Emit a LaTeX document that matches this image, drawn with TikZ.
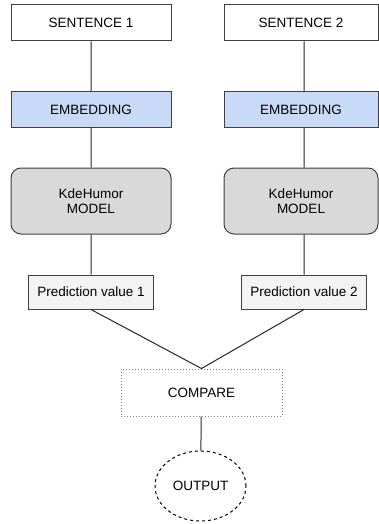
\documentclass[tikz,border=0pt]{standalone}
\usepackage{fontspec}
\setmainfont{Liberation Sans}
\usetikzlibrary{arrows,positioning,shapes.geometric}

\definecolor{embblue}{HTML}{C9DAF8}
\definecolor{modgray}{HTML}{D9D9D9}
\definecolor{predgray}{HTML}{F3F3F3}
\definecolor{linegray}{HTML}{404040}

\begin{document}
\begin{tikzpicture}[x=1pt,y=1pt,font=\fontsize{13.5}{15.5}\selectfont,
    every node/.style={draw=linegray,line width=1pt,inner sep=0pt,align=center},
    sentbox/.style={minimum height=36pt,fill=white},
    embbox/.style={minimum width=160pt,minimum height=35pt,fill=embblue},
    modbox/.style={minimum width=160pt,minimum height=66pt,fill=modgray,rounded corners=10pt},
    predbox/.style={minimum height=34pt,minimum width=125pt,fill=predgray},
    link/.style={draw=black!85,line width=1pt}]
  \useasboundingbox (0,0) rectangle (379,-524);
  % left branch
  \node[sentbox,minimum width=160pt] (S1) at (91,-23) {SENTENCE 1};
  \node[embbox] (E1) at (91,-109.5) {EMBEDDING};
  \node[modbox] (M1) at (91,-201) {KdeHumor\\MODEL};
  \node[predbox] (P1) at (91,-292) {Prediction value 1};
  % right branch
  \node[sentbox,minimum width=154pt] (S2) at (301,-23) {SENTENCE 2};
  \node[embbox,minimum width=154pt] (E2) at (301,-109.5) {EMBEDDING};
  \node[modbox,minimum width=154pt] (M2) at (301,-201) {KdeHumor\\MODEL};
  \node[predbox] (P2) at (304,-292) {Prediction value 2};
  % merge
  \node[dotted,draw=gray,minimum width=161pt,minimum height=47pt] (C) at (201.5,-392.5) {COMPARE};
  \node[ellipse,dashed,draw=black,minimum width=91pt,minimum height=70pt] (O) at (200.5,-486) {OUTPUT};
  \path[link] (S1) -- (E1) (E1) -- (M1) (M1) -- (P1)
    ([xshift=3pt]S2.south) -- ([xshift=3pt]E2.north)
    ([xshift=3pt]E2.south) -- ([xshift=3pt]M2.north)
    ([xshift=3pt]M2.south) -- (P2.north)
    (P1.south) -- (C.north) (P2.south) -- (C.north)
    (C) -- (O);
\end{tikzpicture}
\end{document}
